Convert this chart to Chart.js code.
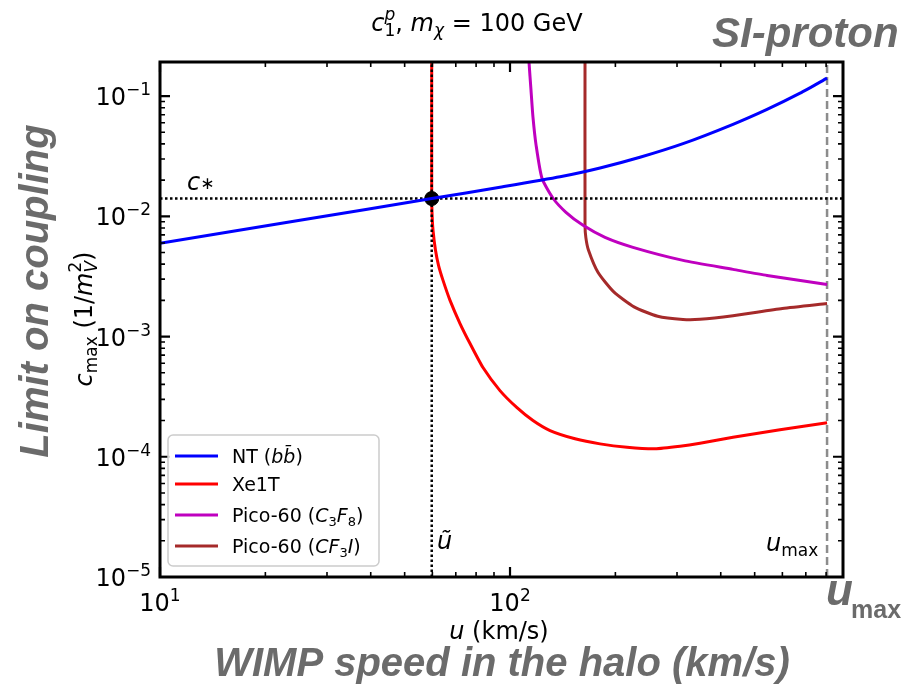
<!DOCTYPE html>
<html>
<head>
<meta charset="utf-8">
<script src="https://cdn.jsdelivr.net/npm/chart.js@4/dist/chart.umd.min.js"></script>
<style>
  html, body { margin: 0; padding: 0; background: #fff; }
  canvas { display: block; }
</style>
</head>
<body>
<canvas id="chartCoupling" width="903" height="691"></canvas>
<script>
// axis ranges (km/s and 1/m_V^2)
const uMin = 10, uTop = 894;
const cMin = 1e-5, cTop = 0.192;

// reference values
const uTilde = 59.75;
const cStar = 0.01405;
const uMax = 805;

// NT (b bbar)
const ntU = [10, 25.1, 59.75, 93.6, 139, 180.8, 235.1, 312.1, 433.6, 542.4, 674.1, 805];
const ntC = [0.00596, 0.00926, 0.01405, 0.01745, 0.0213, 0.02521, 0.03096, 0.04019, 0.05821, 0.07748, 0.1057, 0.141];

// Xe1T
const xeU = [59.75, 59.75, 59.94, 60.26, 61.25, 62.48, 64.36, 67.39, 71.97, 76.87, 83.7, 93.6, 104.7, 116.3, 130.1, 153.4, 180.8, 215.9, 259.6, 306, 349, 433.6, 590.6, 805];
const xeC = [0.3, 0.01405, 0.00981, 0.00764, 0.00521, 0.00391, 0.00293, 0.0020, 0.001283, 0.000874, 0.000552, 0.000355, 0.000256, 0.0002, 0.000165, 0.000141, 0.000128, 0.00012, 0.0001166, 0.0001224, 0.0001296, 0.0001454, 0.000168, 0.000192];

// Pico-60 (C3F8)
const f8U = [112.9, 113.3, 114.8, 116.3, 118.7, 123.4, 132.7, 144.5, 161.7, 186.8, 224.5, 312.1, 433.6, 542.4, 805];
const f8C = [0.2416, 0.192, 0.1122, 0.0668, 0.0391, 0.0207, 0.01413, 0.0108, 0.00841, 0.00668, 0.00552, 0.0043, 0.00362, 0.00322, 0.00271];

// Pico-60 (CF3I)
const ciU = [163.8, 163.8, 164.7, 167.4, 178.5, 197.9, 226.1, 264.1, 312, 349, 433.6, 600, 805];
const ciC = [0.3, 0.0084, 0.00665, 0.00528, 0.00341, 0.00235, 0.001765, 0.001474, 0.001386, 0.00139, 0.00149, 0.00171, 0.00188];

// axis ticks
const xMajor = [10, 100];
const xMajorExp = ['1', '2'];
const yMajor = [1e-5, 1e-4, 1e-3, 1e-2, 1e-1];
const yMajorExp = ['\u22125', '\u22124', '\u22123', '\u22122', '\u22121'];

const pts = (us, cs) => us.map((u, i) => ({ x: u, y: cs[i] }));

const MT = 'DejaVu Sans';
const GRAY = '#6b6b6b';

// draws a row of text pieces; a piece with stack:true shares the x of the one before
function richWidth(ctx, parts) {
  let w = 0, last = 0;
  parts.forEach(p => {
    ctx.font = p.font;
    const pw = ctx.measureText(p.t).width;
    if (p.stack) { w += Math.max(0, pw - last); last = Math.max(pw, last); }
    else { w += pw; last = pw; }
  });
  return w;
}
function drawRich(ctx, parts, x, y, align) {
  const w = richWidth(ctx, parts);
  let cx = align === 'center' ? x - w / 2 : align === 'right' ? x - w : x;
  let start = cx, last = 0;
  ctx.textAlign = 'left';
  ctx.textBaseline = 'alphabetic';
  parts.forEach(p => {
    ctx.font = p.font;
    const pw = ctx.measureText(p.t).width;
    if (p.stack) {
      ctx.fillText(p.t, start, y + (p.dy || 0));
      cx = start + Math.max(pw, last);
    } else {
      start = cx;
      ctx.fillText(p.t, cx, y + (p.dy || 0));
      cx += pw;
      last = pw;
    }
  });
}

const framePlugin = {
  id: 'frameAndText',
  afterDraw(chart) {
    const ctx = chart.ctx;
    const a = chart.chartArea;
    const xs = chart.scales.x, ys = chart.scales.y;
    ctx.save();
    ctx.strokeStyle = '#000';
    ctx.fillStyle = '#000';

    // inward ticks on all four sides
    const tick = (isX, v, len, lw) => {
      ctx.lineWidth = lw;
      ctx.beginPath();
      if (isX) {
        const px = xs.getPixelForValue(v);
        ctx.moveTo(px, a.bottom); ctx.lineTo(px, a.bottom - len);
        ctx.moveTo(px, a.top); ctx.lineTo(px, a.top + len);
      } else {
        const py = ys.getPixelForValue(v);
        ctx.moveTo(a.left, py); ctx.lineTo(a.left + len, py);
        ctx.moveTo(a.right, py); ctx.lineTo(a.right - len, py);
      }
      ctx.stroke();
    };
    for (let d = 10; d < uTop; d *= 10) {
      for (let k = 2; k <= 9; k++) if (k * d < uTop) tick(true, k * d, 5, 1.6);
    }
    xMajor.forEach(v => tick(true, v, 10, 2.2));
    for (let d = 1e-5; d < cTop; d *= 10) {
      for (let k = 2; k <= 9; k++) if (k * d < cTop) tick(false, k * d, 5, 1.6);
    }
    yMajor.forEach(v => tick(false, v, 10, 2.2));

    // frame
    ctx.lineWidth = 3;
    ctx.strokeRect(a.left, a.top, a.right - a.left, a.bottom - a.top);

    // tick labels
    const big = '24px ' + MT, small = '17px ' + MT;
    xMajor.forEach((v, i) => {
      drawRich(ctx, [{ t: '10', font: big }, { t: xMajorExp[i], font: small, dy: -10 }],
        xs.getPixelForValue(v), 611, 'center');
    });
    yMajor.forEach((v, i) => {
      drawRich(ctx, [{ t: '10', font: big }, { t: yMajorExp[i], font: small, dy: -10 }],
        151, ys.getPixelForValue(v) + 9, 'right');
    });

    // title
    const it = 'italic 24px ' + MT, its = 'italic 17px ' + MT;
    drawRich(ctx, [
      { t: 'c', font: it },
      { t: '1', font: small, dy: 5 },
      { t: 'p', font: its, dy: -11, stack: true },
      { t: ', ', font: big },
      { t: 'm', font: it },
      { t: '\u03c7', font: its, dy: 5 },
      { t: ' = 100 GeV', font: big }
    ], 477, 31, 'center');

    // axis labels
    drawRich(ctx, [{ t: 'u', font: it }, { t: ' (km/s)', font: big }], 499, 639, 'center');
    ctx.save();
    ctx.translate(92, 319);
    ctx.rotate(-Math.PI / 2);
    drawRich(ctx, [
      { t: 'c', font: it },
      { t: 'max', font: small, dy: 5 },
      { t: ' (1/', font: big },
      { t: 'm', font: it },
      { t: 'V', font: its, dy: 5 },
      { t: '2', font: small, dy: -11, stack: true },
      { t: ')', font: big }
    ], 0, 0, 'center');
    ctx.restore();

    // annotations on the plot
    drawRich(ctx, [{ t: 'c', font: it }, { t: '\u2217', font: small, dy: -1 }], 187, 190, 'left');
    drawRich(ctx, [{ t: '\u0169', font: it }], 437, 549, 'left');
    drawRich(ctx, [{ t: 'u', font: it }, { t: 'max', font: small, dy: 5 }], 766, 551, 'left');

    // legend
    const lx = 168, ly = 435, lw = 211, lh = 131;
    ctx.fillStyle = 'rgba(255,255,255,0.85)';
    ctx.strokeStyle = '#cccccc';
    ctx.lineWidth = 1.5;
    ctx.beginPath();
    ctx.roundRect(lx, ly, lw, lh, 5);
    ctx.fill();
    ctx.stroke();
    const rows = [456, 484, 515, 546];
    const lf = '19px ' + MT, lfi = 'italic 19px ' + MT, lfs = '13px ' + MT;
    const legendText = [
      [{ t: 'NT (', font: lf }, { t: 'b', font: lfi }, { t: 'b\u0304', font: lfi }, { t: ')', font: lf }],
      [{ t: 'Xe1T', font: lf }],
      [{ t: 'Pico-60 (', font: lf }, { t: 'C', font: lfi }, { t: '3', font: lfs, dy: 4 }, { t: 'F', font: lfi }, { t: '8', font: lfs, dy: 4 }, { t: ')', font: lf }],
      [{ t: 'Pico-60 (', font: lf }, { t: 'CF', font: lfi }, { t: '3', font: lfs, dy: 4 }, { t: 'I', font: lfi }, { t: ')', font: lf }]
    ];
    chart.data.datasets.filter(ds => ds.inLegend).forEach((ds, i) => {
      ctx.strokeStyle = ds.borderColor;
      ctx.lineWidth = 3;
      ctx.beginPath();
      ctx.moveTo(175, rows[i]); ctx.lineTo(218, rows[i]);
      ctx.stroke();
      ctx.fillStyle = '#000';
      drawRich(ctx, legendText[i], 232, rows[i] + 7, 'left');
    });

    // large grey captions
    ctx.fillStyle = GRAY;
    ctx.textBaseline = 'alphabetic';
    ctx.textAlign = 'left';
    ctx.font = 'italic bold 42px "Liberation Sans"';
    ctx.fillText('SI-proton', 712, 47);
    ctx.font = 'italic bold 40px "Liberation Sans"';
    ctx.textAlign = 'center';
    ctx.fillText('WIMP speed in the halo (km/s)', 502, 676);
    ctx.save();
    ctx.translate(48, 291);
    ctx.rotate(-Math.PI / 2);
    ctx.fillText('Limit on coupling', 0, 0);
    ctx.restore();
    ctx.textAlign = 'left';
    ctx.font = 'italic bold 44px "Liberation Sans"';
    ctx.fillText('u', 826, 605);
    ctx.font = 'bold 25px "Liberation Sans"';
    ctx.fillText('max', 851, 618);
    ctx.restore();
  }
};

const ctx = document.getElementById('chartCoupling').getContext('2d');
new Chart(ctx, {
  type: 'line',
  data: {
    datasets: [
      {
        label: 'NT (b b\u0304)', inLegend: true,
        data: pts(ntU, ntC),
        borderColor: '#0000ff', borderWidth: 3, order: 0
      },
      {
        label: 'Xe1T', inLegend: true,
        data: pts(xeU, xeC),
        borderColor: '#ff0000', borderWidth: 3, order: 3
      },
      {
        label: 'Pico-60 (C3F8)', inLegend: true,
        data: pts(f8U, f8C),
        borderColor: '#bf00bf', borderWidth: 3, order: 3
      },
      {
        label: 'Pico-60 (CF3I)', inLegend: true,
        data: pts(ciU, ciC),
        borderColor: '#a52a2a', borderWidth: 3, order: 3
      },
      {
        label: 'c*',
        data: [{ x: uMin, y: cStar }, { x: uTop, y: cStar }],
        borderColor: '#000', borderWidth: 2.5, borderDash: [2.5, 2.5], order: 1, tension: 0
      },
      {
        label: 'u tilde',
        data: [{ x: uTilde, y: cMin }, { x: uTilde, y: cTop }],
        borderColor: '#000', borderWidth: 2.5, borderDash: [2.5, 2.5], order: 1, tension: 0
      },
      {
        label: 'u max',
        data: [{ x: uMax, y: cMin }, { x: uMax, y: cTop }],
        borderColor: '#8c8c8c', borderWidth: 2.5, borderDash: [8, 4], order: 4, tension: 0
      },
      {
        label: 'crossing',
        data: [{ x: uTilde, y: cStar }],
        showLine: false,
        pointRadius: 7, pointBackgroundColor: '#000', pointBorderColor: '#000', order: 2
      }
    ]
  },
  options: {
    responsive: false,
    animation: false,
    devicePixelRatio: 1,
    layout: { padding: { left: 160, right: 60, top: 62, bottom: 114 } },
    elements: {
      point: { radius: 0 },
      line: { tension: 0.2, fill: false }
    },
    scales: {
      x: { type: 'logarithmic', min: uMin, max: uTop, display: false },
      y: { type: 'logarithmic', min: cMin, max: cTop, display: false }
    },
    plugins: {
      legend: { display: false },
      tooltip: { enabled: false }
    }
  },
  plugins: [framePlugin]
});
</script>
</body>
</html>
